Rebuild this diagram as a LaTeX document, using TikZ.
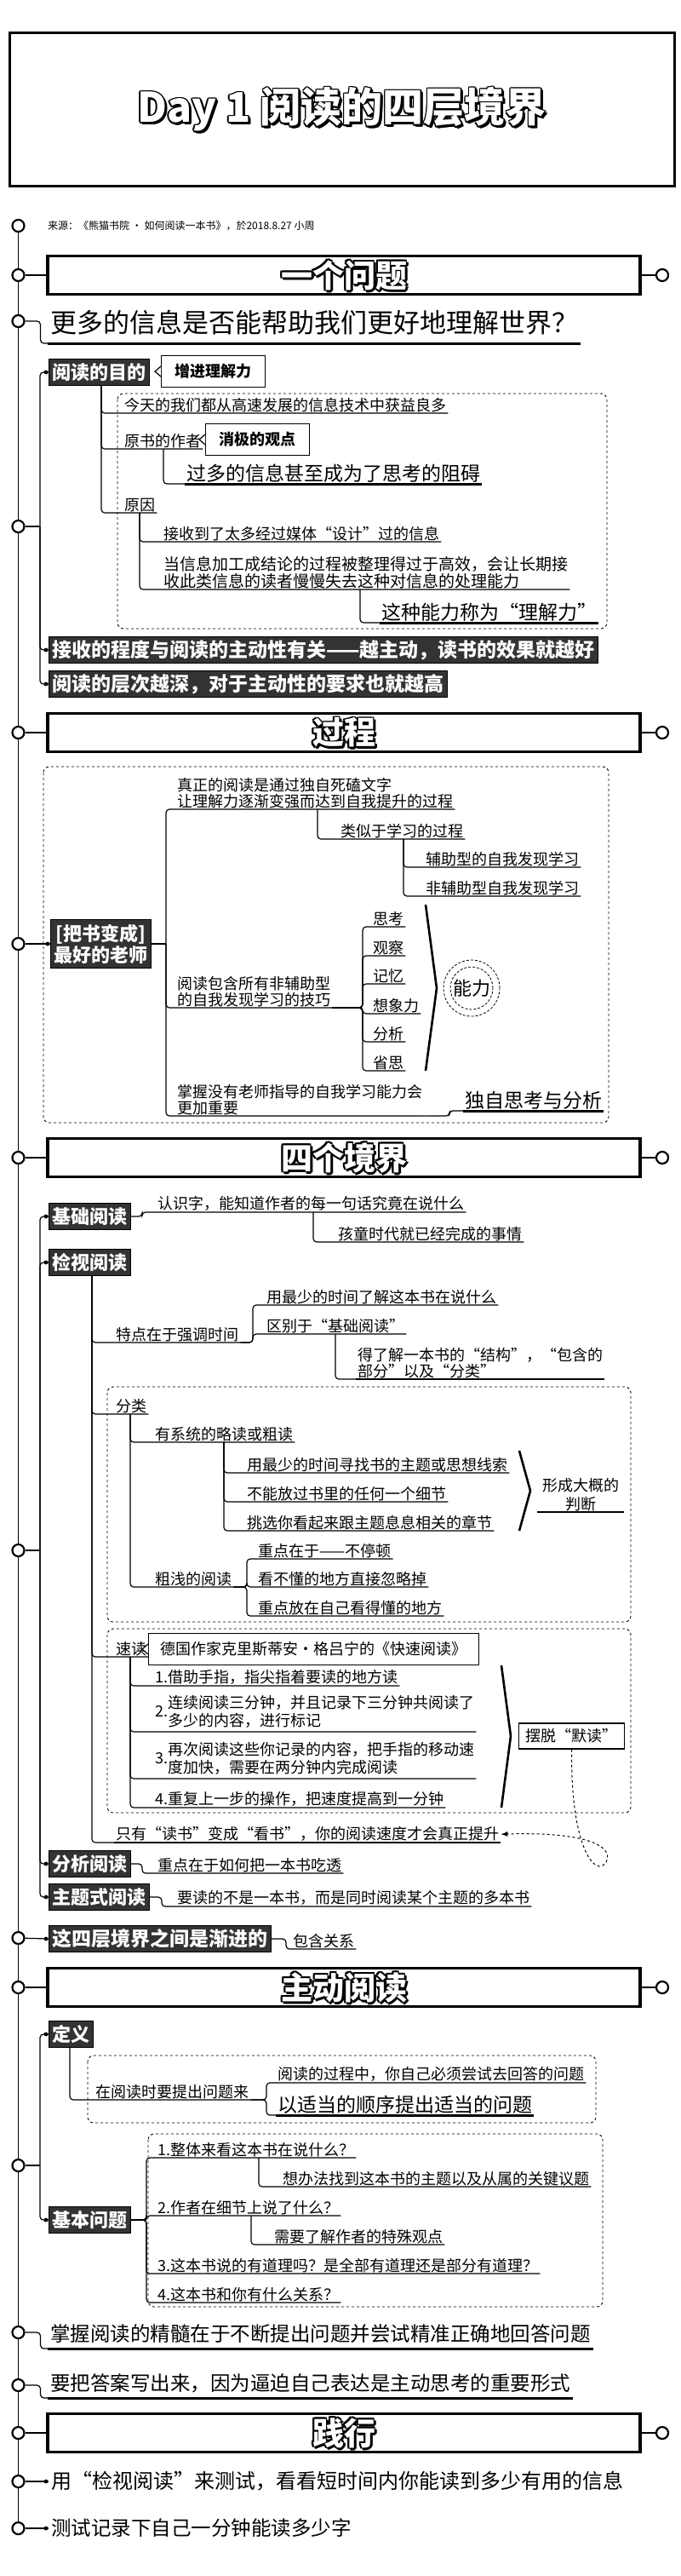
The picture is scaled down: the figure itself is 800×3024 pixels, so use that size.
\documentclass[tikz,border=0pt]{standalone}
\usepackage{fontspec}
\setmainfont{Noto Sans CJK SC}
\usetikzlibrary{calc,arrows.meta}
\newcommand{\fsz}[2]{\fontsize{#1}{#2}\selectfont}
\newcommand{\outlined}[3]{%
  \foreach \ox/\oy in {-1.6/0,1.6/0,0/-1.6,0/1.6,-1.2/-1.2,1.2/-1.2,-1.2/1.2,1.2/1.2,2.6/2.6,1.8/3,3/1.8}
    {\node[font=\bfseries\fsz{#2}{#2}, text=black, inner sep=0pt] at ($(#1)+(\ox,\oy)$) {#3};}
  \node[font=\bfseries\fsz{#2}{#2}, text=white, inner sep=0pt] at (#1) {#3};}
\newcommand{\bul}[1]{\fill ($(#1.west)+(-3,0)$) circle (2.4pt);}
\tikzset{
  hub/.style={circle, draw, line width=2.2pt, fill=white, minimum size=14pt, inner sep=0pt},
  hubdot/.style={hub, path picture={\fill (path picture bounding box.center) circle (3pt);}},
  secbar/.style={draw, line width=3.5pt, minimum width=696pt, minimum height=45pt, inner sep=0pt},
  darkbox/.style={fill=black!80, draw=black, line width=1pt, text=white, font=\bfseries\fsz{22}{24}, inner xsep=4pt, inner ysep=3pt, minimum height=31pt, anchor=west},
  leaf/.style={anchor=south west, inner xsep=2pt, inner ysep=1pt, font=\fsz{18}{19}, align=left},
  bigq/.style={anchor=south west, inner xsep=3pt, inner ysep=6pt, font=\fsz{23.5}{26}},
  callbox/.style={draw, fill=white, line width=1.2pt, anchor=west, font=\bfseries\fsz{18}{20}, inner xsep=16pt, minimum height=37pt},
  groupbox/.style={draw, dashed, line width=0.9pt, rounded corners=7pt},
  link/.style={line width=1.2pt, rounded corners=4pt},
  heavy/.style={line width=3pt},
  bracketline/.style={line width=2.6pt}
}
\begin{document}
\begin{tikzpicture}[x=1pt, y=-1pt]
\fill[white] (0,0) rectangle (800,3024);
\useasboundingbox (0,0) rectangle (800,3024);
\node[draw, line width=3pt, minimum width=781pt, minimum height=179pt] (titlebox) at (401.5,128.5) {};
\outlined{titlebox.center}{48}{Day 1 阅读的四层境界}

\node[hub] (c0) at (21.5,265) {};
\node[hubdot] (c1) at (21.5,323) {};
\node[hub] (c2) at (21.5,377) {};
\node[hub] (c3) at (21.5,618) {};
\node[hubdot] (c4) at (21.5,860) {};
\node[hub] (c5) at (21.5,1108) {};
\node[hubdot] (c6) at (21.5,1359) {};
\node[hub] (c7) at (21.5,1820) {};
\node[hub] (c8) at (21.5,2275) {};
\node[hubdot] (c9) at (21.5,2333) {};
\node[hub] (c10) at (21.5,2542) {};
\node[hub] (c11) at (21.5,2738) {};
\node[hub] (c12) at (21.5,2800) {};
\node[hubdot] (c13) at (21.5,2856) {};
\node[hub] (c14) at (21.5,2913) {};
\node[hub] (c15) at (21.5,2968) {};
\foreach \a/\b in {c0/c1,c1/c2,c2/c3,c3/c4,c4/c5,c5/c6,c6/c7,c7/c8,c8/c9,c9/c10,c10/c11,c11/c12,c12/c13,c13/c14,c14/c15}
  \draw[line width=1.3pt] (\a) -- (\b);

\node[anchor=west, font=\fsz{12}{14}, inner sep=0pt] (src) at (56,265) {来源：《熊猫书院 · 如何阅读一本书》，於2018.8.27 小周};

% 一个问题
\node[secbar] (s1) at (404,323) {};
\outlined{s1.center}{37}{一个问题}
\node[hubdot] (r1) at (778,323) {};
\draw[link] (c1) -- (s1.west);
\draw[link] (s1.east) -- (r1);
\node[bigq, font=\fsz{31}{33}, inner ysep=10pt] (q1) at (56,403) {更多的信息是否能帮助我们更好地理解世界？};
\draw[link] (c2) -- ++(26,0) |- (q1.south west);
\draw[heavy] (q1.south west) -- (q1.south east);

\coordinate (b1) at (47,618);
\draw[link] (c3) -- (b1);
\node[darkbox] (mudi) at (57,437) {阅读的目的};
\node[darkbox, font=\bfseries\fsz{23}{25}] (jieshou) at (57,763) {接收的程度与阅读的主动性有关——越主动，读书的效果就越好};
\node[darkbox, font=\bfseries\fsz{23}{25}] (cengci) at (57,803) {阅读的层次越深，对于主动性的要求也就越高};
\foreach \n in {mudi,jieshou,cengci} {\draw[link] (b1) |- (\n.west); \bul{\n}}
\node[callbox] (zengjin) at (189,436) {增进理解力};
\draw[line width=1.2pt, fill=white] ($(zengjin.west)+(0,-6)$) -- ++(-7,6) -- ++(7,6);

\draw[groupbox] (138,462) rectangle (713,738);
\node[leaf] (jintian) at (144,485) {今天的我们都从高速发展的信息技术中获益良多};
\node[leaf] (yuanshu) at (144,527) {原书的作者};
\node[callbox] (xiaoji) at (241,516) {消极的观点};
\draw[line width=1.2pt, fill=white] ($(xiaoji.west)+(0,-6)$) -- ++(-7,6) -- ++(7,6);
\node[leaf, font=\fsz{23}{25}] (guoduo) at (217,568) {过多的信息甚至成为了思考的阻碍};
\node[leaf] (yuanyin) at (144,602) {原因};
\node[leaf] (jieshouxx) at (190,636) {接收到了太多经过媒体“设计”过的信息};
\node[leaf, font=\fsz{19}{20}] (dangxx) at (190,692) {当信息加工成结论的过程被整理得过于高效，会让长期接\\收此类信息的读者慢慢失去这种对信息的处理能力};
\node[leaf, font=\fsz{23}{25}] (lijieli) at (446,731) {这种能力称为“理解力”};
\draw[link] (119,0 |- mudi.south) |- (jintian.south east);
\draw[link] (119,0 |- mudi.south) |- (yuanshu.south east);
\draw[link] (119,0 |- mudi.south) |- (yuanyin.south east);
\draw[link] (192,0 |- yuanshu.south) |- (guoduo.south west);
\draw[heavy] (guoduo.south west) -- (guoduo.south east);
\draw[link] (164,0 |- yuanyin.south) |- (jieshouxx.south east);
\draw[link] (164,0 |- yuanyin.south) |- (dangxx.south east);
\draw[link] (423,0 |- dangxx.south) |- (lijieli.south west);
\draw[heavy] (lijieli.south west) -- (lijieli.south east);

% 过程
\node[secbar] (s2) at (404,860) {};
\outlined{s2.center}{37}{过程}
\node[hubdot] (r4) at (778,860) {};
\draw[link] (c4) -- (s2.west);
\draw[link] (s2.east) -- (r4);
\draw[groupbox] (51,900) rectangle (715,1318);
\node[darkbox, align=center, font=\bfseries\fsz{22}{25}, inner ysep=5pt] (shuzuo) at (59,1108) {[把书变成]\\最好的老师};
\draw[line width=2pt] (c5) -- (shuzuo.west);
\bul{shuzuo}
\coordinate (b2) at (195,1108);
\draw[link] (shuzuo.east) -- (b2);
\node[leaf] (zhenzheng) at (206,950) {真正的阅读是通过独自死磕文字\\让理解力逐渐变强而达到自我提升的过程};
\node[leaf] (leisi) at (398,985) {类似于学习的过程};
\node[leaf] (fuzhu) at (498,1018) {辅助型的自我发现学习};
\node[leaf] (feifuzhu) at (498,1052) {非辅助型自我发现学习};
\node[leaf] (baohan) at (206,1183) {阅读包含所有非辅助型\\的自我发现学习的技巧};
\node[leaf] (sikao) at (436,1088) {思考};
\node[leaf] (guancha) at (436,1122) {观察};
\node[leaf] (jiyi) at (436,1155) {记忆};
\node[leaf] (xiangxiang) at (436,1190) {想象力};
\node[leaf] (fenxi) at (436,1223) {分析};
\node[leaf] (xingsi) at (436,1257) {省思};
\node[leaf] (zhangwo) at (206,1310) {掌握没有老师指导的自我学习能力会\\更加重要};
\node[leaf, font=\fsz{23}{25}] (duli) at (544,1304) {独自思考与分析};
\draw[link] (b2) |- (zhenzheng.south east);
\draw[link] (b2) |- (baohan.south east);
\draw[link] (b2) |- (zhangwo.south east);
\draw[link] (373,0 |- zhenzheng.south) |- (leisi.south east);
\draw[link] (474,0 |- leisi.south) |- (fuzhu.south east);
\draw[link] (474,0 |- leisi.south) |- (feifuzhu.south east);
\foreach \n in {sikao,guancha,jiyi,xiangxiang,fenxi,xingsi}
  \draw[link] (baohan.south east) -- (426,0 |- baohan.south) |- (\n.south east);
\draw[bracketline] (500,1062) -- (513,1160) -- (500,1257);
\node[circle, draw, densely dashed, line width=0.8pt, minimum size=66pt, font=\fsz{22}{24}] (nengli) at (554,1160) {能力};
\draw[densely dashed, line width=0.8pt] (nengli.center) circle (25pt);
\draw[link] (zhangwo.south east) -- (528,0 |- zhangwo.south) |- (duli.south west);
\draw[heavy] (duli.south west) -- (duli.south east);

% 四个境界
\node[secbar] (s3) at (404,1359) {};
\outlined{s3.center}{37}{四个境界}
\node[hubdot] (r6) at (778,1359) {};
\draw[link] (c6) -- (s3.west);
\draw[link] (s3.east) -- (r6);
\coordinate (b3) at (47,1820);
\draw[link] (c7) -- (b3);
\node[darkbox] (jichu) at (57,1428) {基础阅读};
\node[darkbox] (jianshi) at (57,1482) {检视阅读};
\node[darkbox] (fenxiyd) at (57,2188) {分析阅读};
\node[darkbox] (zhuti) at (57,2227) {主题式阅读};
\foreach \n in {jichu,jianshi,fenxiyd,zhuti} {\draw[link] (b3) |- (\n.west); \bul{\n}}
\node[leaf] (renshi) at (183,1423) {认识字，能知道作者的每一句话究竟在说什么};
\node[leaf] (haitong) at (395,1458) {孩童时代就已经完成的事情};
\draw[link] (jichu.east) -- (167,0 |- jichu.east) |- (renshi.south east);
\draw[link] (368,0 |- renshi.south) |- (haitong.south east);

\node[leaf] (tedian) at (134,1576) {特点在于强调时间};
\node[leaf] (yongzuishao) at (311,1532) {用最少的时间了解这本书在说什么};
\node[leaf] (qubie) at (311,1566) {区别于“基础阅读”};
\node[leaf] (delejie) at (418,1619) {得了解一本书的“结构”，“包含的\\部分”以及“分类”};
\draw[link] (108,0 |- jianshi.south) |- (tedian.south east);
\draw[link] (tedian.south east) -- (297,0 |- tedian.south) |- (yongzuishao.south east);
\draw[link] (tedian.south east) -- (297,0 |- tedian.south) |- (qubie.south east);
\draw[link] (394,0 |- qubie.south) |- (delejie.south west);
\draw[line width=2.2pt] (delejie.south west) -- (delejie.south east);

\draw[groupbox] (126,1628) rectangle (741,1904);
\node[leaf] (fenlei) at (134,1660) {分类};
\draw[link] (108,0 |- jianshi.south) |- (fenlei.south east);
\node[leaf] (youxitong) at (180,1693) {有系统的略读或粗读};
\draw[link] (153,0 |- fenlei.south) |- (youxitong.south east);
\node[leaf] (zhaozhuti) at (288,1729) {用最少的时间寻找书的主题或思想线索};
\node[leaf] (buneng) at (288,1763) {不能放过书里的任何一个细节};
\node[leaf] (tiaoxuan) at (288,1797) {挑选你看起来跟主题息息相关的章节};
\foreach \n in {zhaozhuti,buneng,tiaoxuan}
  \draw[link] (263,0 |- youxitong.south) |- (\n.south east);
\draw[bracketline] (610,1703) -- (623,1750) -- (610,1797);
\node[leaf, anchor=south, align=center, minimum width=102pt, font=\fsz{18}{22}] (xingcheng) at (682,1775) {形成大概的\\判断};
\draw[line width=2.2pt] (xingcheng.south west) -- (xingcheng.south east);
\node[leaf] (cuqian) at (180,1863) {粗浅的阅读};
\draw[link] (153,0 |- fenlei.south) |- (cuqian.south east);
\node[leaf] (buting) at (301,1830) {重点在于——不停顿};
\node[leaf] (hulue) at (301,1863) {看不懂的地方直接忽略掉};
\node[leaf] (kandedong) at (301,1897) {重点放在自己看得懂的地方};
\foreach \n in {buting,hulue,kandedong}
  \draw[link] (cuqian.south east) -- (290,0 |- cuqian.south) |- (\n.south east);

\draw[groupbox] (126,1912) rectangle (741,2128);
\node[leaf] (sudu) at (134,1945) {速读};
\draw[link] (108,0 |- jianshi.south) |- (sudu.south east);
\node[callbox, font=\fsz{18}{20}, inner xsep=14pt] (deguo) at (174,1936) {德国作家克里斯蒂安·格吕宁的《快速阅读》};
\draw[line width=1.2pt, fill=white] ($(deguo.west)+(0,-6)$) -- ++(-7,6) -- ++(7,6);
\node[leaf] (zhizhi) at (180,1979) {1.借助手指，指尖指着要读的地方读};
\node[leaf] (sanfen) at (180,2033) {2.\begin{tabular}[c]{@{}l@{}}连续阅读三分钟，并且记录下三分钟共阅读了\\多少的内容，进行标记\end{tabular}};
\node[leaf] (liangfen) at (180,2088) {3.\begin{tabular}[c]{@{}l@{}}再次阅读这些你记录的内容，把手指的移动速\\度加快，需要在两分钟内完成阅读\end{tabular}};
\node[leaf] (yifen) at (180,2122) {4.重复上一步的操作，把速度提高到一分钟};
\foreach \n in {zhizhi,sanfen,liangfen,yifen}
  \draw[link] (153,0 |- sudu.south) |- (\n.south east);
\draw[bracketline] (589,1955) -- (600,2038) -- (589,2122);
\node[callbox, font=\fsz{18}{20}, inner xsep=0pt, minimum width=124pt, minimum height=30pt] (baituo) at (609,2038) {摆脱“默读”};
\node[leaf] (zhiyou) at (134,2163) {只有“读书”变成“看书”，你的阅读速度才会真正提升};
\draw[link] (108,0 |- jianshi.south) |- (zhiyou.south west);
\draw[line width=2.6pt] (zhiyou.south west) -- (zhiyou.south east);
\draw[dashed, line width=1pt, -{Latex[length=8pt]}] (baituo.south) .. controls (670,2170) and (700,2205) .. (712,2186) .. controls (722,2168) and (690,2150) .. (zhiyou.east);

\node[leaf] (chitou) at (183,2199) {重点在于如何把一本书吃透};
\draw[link] (fenxiyd.east) -- (167,0 |- fenxiyd.east) |- (chitou.south east);
\node[leaf] (duoben) at (206,2238) {要读的不是一本书，而是同时阅读某个主题的多本书};
\draw[link] (zhuti.east) -- (190,0 |- zhuti.east) |- (duoben.south east);

\node[darkbox, font=\bfseries\fsz{23}{25}] (jianjin) at (57,2276) {这四层境界之间是渐进的};
\draw[link] (c8) -- (jianjin.west);
\bul{jianjin}
\node[leaf] (baohangx) at (342,2288) {包含关系};
\draw[link] (jianjin.east) -- (336,0 |- jianjin.east) |- (baohangx.south east);

% 主动阅读
\node[secbar] (s4) at (404,2333) {};
\outlined{s4.center}{37}{主动阅读}
\node[hubdot] (r9) at (778,2333) {};
\draw[link] (c9) -- (s4.west);
\draw[link] (s4.east) -- (r9);
\coordinate (b4) at (47,2542);
\draw[link] (c10) -- (b4);
\node[darkbox] (dingyi) at (57,2388) {定义};
\node[darkbox] (jiben) at (57,2606) {基本问题};
\foreach \n in {dingyi,jiben} {\draw[link] (b4) |- (\n.west); \bul{\n}}
\draw[groupbox] (103,2413) rectangle (700,2492);
\node[leaf] (tichu) at (110,2465) {在阅读时要提出问题来};
\draw[link] (82,0 |- dingyi.south) |- (tichu.south east);
\node[leaf] (huida) at (324,2445) {阅读的过程中，你自己必须尝试去回答的问题};
\node[leaf, font=\fsz{23}{25}] (shunxu) at (324,2483) {以适当的顺序提出适当的问题};
\draw[link] (tichu.south east) -- (313,0 |- tichu.south) |- (huida.south east);
\draw[link] (tichu.south east) -- (313,0 |- tichu.south) |- (shunxu.south west);
\draw[heavy] (shunxu.south west) -- (shunxu.south east);

\draw[groupbox] (174,2505) rectangle (708,2708);
\node[leaf] (wen1) at (183,2533) {1.整体来看这本书在说什么？};
\node[leaf] (wen1a) at (330,2567) {想办法找到这本书的主题以及从属的关键议题};
\node[leaf] (wen2) at (183,2601) {2.作者在细节上说了什么？};
\node[leaf] (wen2a) at (320,2635) {需要了解作者的特殊观点};
\node[leaf] (wen3) at (183,2669) {3.这本书说的有道理吗？是全部有道理还是部分有道理？};
\node[leaf] (wen4) at (183,2703) {4.这本书和你有什么关系？};
\foreach \n in {wen1,wen2,wen3,wen4}
  \draw[link] (jiben.east) -- (172,0 |- jiben.east) |- (\n.south east);
\draw[link] (304,0 |- wen1.south) |- (wen1a.south east);
\draw[link] (295,0 |- wen2.south) |- (wen2a.south east);

\node[bigq] (jingsui) at (56,2757) {掌握阅读的精髓在于不断提出问题并尝试精准正确地回答问题};
\draw[link] (c11) -- ++(26,0) |- (jingsui.south west);
\draw[heavy] (jingsui.south west) -- (jingsui.south east);
\node[bigq] (yaoba) at (56,2815) {要把答案写出来，因为逼迫自己表达是主动思考的重要形式};
\draw[link] (c12) -- ++(26,0) |- (yaoba.south west);
\draw[heavy] (yaoba.south west) -- (yaoba.south east);

% 践行
\node[secbar] (s5) at (404,2856) {};
\outlined{s5.center}{37}{践行}
\node[hubdot] (r13) at (778,2856) {};
\draw[link] (c13) -- (s5.west);
\draw[link] (s5.east) -- (r13);
\node[anchor=west, font=\fsz{24}{26}, inner xsep=3pt] (ceshi1) at (57,2913) {用“检视阅读”来测试，看看短时间内你能读到多少有用的信息};
\draw[link] (c14) -- (ceshi1.west);
\bul{ceshi1}
\node[anchor=west, font=\fsz{23.5}{26}, inner xsep=3pt] (ceshi2) at (57,2968) {测试记录下自己一分钟能读多少字};
\draw[link] (c15) -- (ceshi2.west);
\bul{ceshi2}
\end{tikzpicture}
\end{document}
